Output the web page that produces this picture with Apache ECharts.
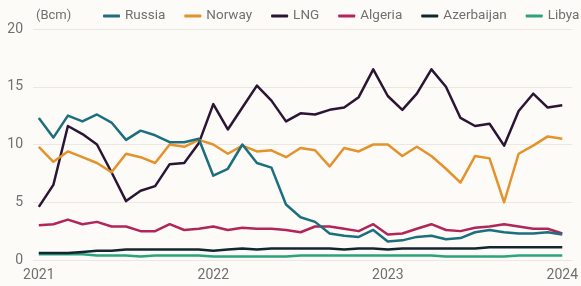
<!DOCTYPE html>
<html>
<head>
<meta charset="utf-8">
<script src="https://cdn.jsdelivr.net/npm/echarts@6/dist/echarts.min.js"></script>
<style>
  html, body { margin: 0; padding: 0; background: #fcfbf7; }
  #main { width: 581px; height: 286px; }
</style>
</head>
<body>
<div id="main"></div>
<script>
// monthly pipeline / LNG imports, Jan 2021 .. Jan 2024 (Bcm)
var months = [];
for (var k = 0; k < 37; k++) months.push(k);
var yearLabels = ['2021', '2022', '2023', '2024'];

var russia = [12.3, 10.6, 12.5, 12.0, 12.6, 11.9, 10.4, 11.2, 10.8, 10.2, 10.2, 10.5,
  7.3, 7.9, 10.0, 8.4, 8.0, 4.8, 3.7, 3.3, 2.3, 2.1, 2.0, 2.6,
  1.6, 1.7, 2.0, 2.1, 1.8, 1.9, 2.4, 2.6, 2.4, 2.3, 2.3, 2.4, 2.2];
var norway = [9.8, 8.5, 9.4, 8.9, 8.4, 7.6, 9.2, 8.9, 8.4, 10.0, 9.8, 10.4,
  10.0, 9.2, 9.9, 9.4, 9.5, 8.9, 9.7, 9.5, 8.1, 9.7, 9.4, 10.0,
  10.0, 9.0, 9.8, 9.0, 7.9, 6.7, 9.0, 8.8, 5.0, 9.2, 9.9, 10.7, 10.5];
var lng = [4.6, 6.5, 11.6, 10.9, 10.0, 7.6, 5.1, 6.0, 6.4, 8.3, 8.4, 10.1,
  13.5, 11.3, 13.2, 15.1, 13.8, 12.0, 12.7, 12.6, 13.0, 13.2, 14.1, 16.5,
  14.2, 13.0, 14.4, 16.5, 15.0, 12.3, 11.6, 11.8, 9.9, 12.9, 14.4, 13.2, 13.4];
var algeria = [3.0, 3.1, 3.5, 3.1, 3.3, 2.9, 2.9, 2.5, 2.5, 3.1, 2.6, 2.7,
  2.9, 2.6, 2.8, 2.7, 2.7, 2.6, 2.4, 2.9, 2.9, 2.7, 2.5, 3.1,
  2.2, 2.3, 2.7, 3.1, 2.6, 2.5, 2.8, 2.9, 3.1, 2.9, 2.7, 2.7, 2.3];
var azerbaijan = [0.6, 0.6, 0.6, 0.7, 0.8, 0.8, 0.9, 0.9, 0.9, 0.9, 0.9, 0.9,
  0.8, 0.9, 1.0, 0.9, 1.0, 1.0, 1.0, 1.0, 1.0, 0.9, 1.0, 1.0,
  0.9, 1.0, 1.0, 1.0, 1.0, 1.0, 1.0, 1.1, 1.1, 1.1, 1.1, 1.1, 1.1];
var libya = [0.5, 0.5, 0.5, 0.5, 0.4, 0.4, 0.4, 0.3, 0.4, 0.4, 0.4, 0.4,
  0.3, 0.3, 0.3, 0.3, 0.3, 0.3, 0.4, 0.4, 0.4, 0.4, 0.4, 0.4,
  0.4, 0.4, 0.4, 0.4, 0.3, 0.3, 0.3, 0.3, 0.3, 0.4, 0.4, 0.4, 0.4];

var names = ['Russia', 'Norway', 'LNG', 'Algeria', 'Azerbaijan', 'Libya'];
var values = [russia, norway, lng, algeria, azerbaijan, libya];
var colors = ['#1c6f7e', '#e4922b', '#2b1535', '#b3245a', '#13262f', '#2ba37c'];

function pairs(arr) {
  return arr.map(function (v, i) { return [months[i], v]; });
}

var series = names.map(function (n, i) {
  return {
    name: n,
    type: 'line',
    data: pairs(values[i]),
    showSymbol: false,
    symbol: 'none',
    lineStyle: { width: 2.5, color: colors[i], join: 'round' },
    itemStyle: { color: colors[i] },
    z: 10 - i
  };
});

var textColor = '#707070';
var font = 'Roboto, "Noto Sans", sans-serif';

var myChart = echarts.init(document.getElementById('main'));
myChart.setOption({
  backgroundColor: '#fcfbf7',
  animation: false,
  color: colors,
  grid: { left: 33, right: 4, top: 29, bottom: 26, containLabel: false },
  legend: {
    data: names,
    left: 103,
    top: 9,
    width: 560,
    padding: 0,
    itemWidth: 17,
    itemHeight: 3,
    itemGap: 19,
    icon: 'roundRect',
    textStyle: { fontSize: 13.5, color: textColor, fontFamily: font }
  },
  graphic: [{
    type: 'text',
    left: 36,
    top: 9,
    style: { text: '(Bcm)', fontSize: 13, fill: textColor, fontFamily: font }
  }],
  xAxis: {
    type: 'value',
    min: -0.4,
    max: 36.7,
    axisLine: { show: false },
    axisTick: { show: false },
    splitLine: { show: false },
    axisLabel: {
      customValues: [0, 12, 24, 36],
      formatter: function (v) { return yearLabels[Math.round(v / 12)]; },
      fontSize: 14,
      color: textColor,
      fontFamily: font,
      margin: 8
    }
  },
  yAxis: {
    type: 'value',
    min: 0,
    max: 20,
    interval: 5,
    axisLine: { show: false },
    axisTick: { show: false },
    splitLine: { lineStyle: { color: '#ece8e0', width: 1 } },
    axisLabel: { fontSize: 14, color: textColor, fontFamily: font, margin: 10 }
  },
  series: series
});
</script>
</body>
</html>
